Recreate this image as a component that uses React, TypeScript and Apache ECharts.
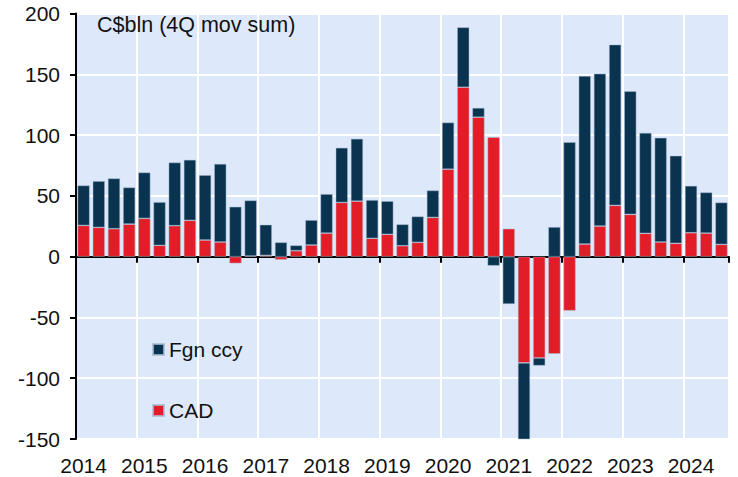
import React, { useEffect, useRef } from "react";
import * as echarts from "echarts";

const years = ["2014", "2015", "2016", "2017", "2018", "2019", "2020", "2021", "2022", "2023", "2024"];
const quarters: string[] = [];
for (const y of years) for (const q of ["Q1", "Q2", "Q3", "Q4"]) quarters.push(y + q);
const categories = quarters.slice(0, 43);

const cadValues = [
  25.7, 24.1, 23.0, 26.8, 31.5, 9.3, 25.5, 29.9, 13.7, 12.1,
  -5.5, 0.5, 1.1, -2.5, 4.9, 9.6, 19.4, 44.6, 45.7, 15.1,
  18.4, 9.0, 11.8, 32.3, 72.0, 139.4, 114.8, 98.3, 23.0, -87.4,
  -83.3, -80.0, -44.4, 10.4, 25.2, 42.2, 34.8, 19.2, 12.1, 11.0,
  19.7, 19.4, 10.1,
];
const fgnValues = [
  32.9, 38.1, 41.4, 30.2, 37.8, 35.6, 52.0, 49.8, 53.4, 64.3,
  41.1, 45.8, 25.2, 11.8, 4.4, 20.5, 32.1, 45.0, 51.3, 31.5,
  27.3, 17.6, 21.3, 22.2, 38.4, 49.3, 7.6, -7.4, -38.9, -64.0,
  -6.3, 24.4, 94.2, 138.3, 125.4, 132.3, 101.3, 82.7, 85.7, 72.0,
  38.6, 33.5, 34.5,
];

const FONT = "Liberation Sans, Arial, sans-serif";
const NAVY = "#0a3350";
const RED = "#e31d27";

export default function App() {
  const ref = useRef<HTMLDivElement>(null);
  useEffect(() => {
    if (!ref.current) return;
    const chart = echarts.init(ref.current, undefined, { renderer: "svg" });
    const barStyle = { borderColor: "rgba(170,190,210,0.8)", borderWidth: 0.6 };
    chart.setOption({
      animation: false,
      textStyle: { fontFamily: FONT },
      grid: {
        left: 76, right: 9, top: 13.6, bottom: 38,
        show: true, backgroundColor: "#dde9fb", borderWidth: 0,
        outerBoundsMode: "none",
        containLabel: false,
      },
      title: {
        text: "C$bln (4Q mov sum)",
        left: 92, top: 9,
        textStyle: { fontFamily: FONT, fontSize: 21.5, fontWeight: "normal", color: "#111" },
      },
      legend: {
        data: ["Fgn ccy", "CAD"],
        orient: "vertical",
        left: 147, top: 334,
        itemWidth: 11, itemHeight: 11, itemGap: 40,
        icon: "rect",
        textStyle: { fontFamily: FONT, fontSize: 21, color: "#111" },
      },
      xAxis: {
        type: "category",
        data: categories,
        boundaryGap: true,
        axisLine: { onZero: true, lineStyle: { color: "#000", width: 2 } },
        axisTick: { show: true, interval: 3, length: 6, lineStyle: { color: "#000", width: 2 } },
        axisLabel: {
          interval: 3,
          formatter: (v: string) => v.slice(0, 4),
          fontFamily: FONT, fontSize: 21, color: "#111", margin: 16,
        },
        splitLine: { show: true, interval: 3, lineStyle: { color: "#fff", width: 2 } },
      },
      yAxis: {
        type: "value",
        min: -150, max: 200, interval: 50,
        axisLine: { show: true, lineStyle: { color: "#000", width: 2 } },
        axisTick: { show: true, length: 6, lineStyle: { color: "#000", width: 2 } },
        axisLabel: { fontFamily: FONT, fontSize: 21, color: "#111", margin: 16 },
        splitLine: { show: true, lineStyle: { color: "#fff", width: 2 } },
      },
      series: [
        {
          name: "CAD", type: "bar", stack: "total", data: cadValues,
          barCategoryGap: "20%",
          itemStyle: { color: RED, ...barStyle },
        },
        {
          name: "Fgn ccy", type: "bar", stack: "total", data: fgnValues,
          barCategoryGap: "20%",
          itemStyle: { color: NAVY, ...barStyle },
        },
      ],
    });
    return () => chart.dispose();
  }, []);
  return <div ref={ref} style={{ width: 738, height: 477, position: "absolute", left: 0, top: 0 }} />;
}
